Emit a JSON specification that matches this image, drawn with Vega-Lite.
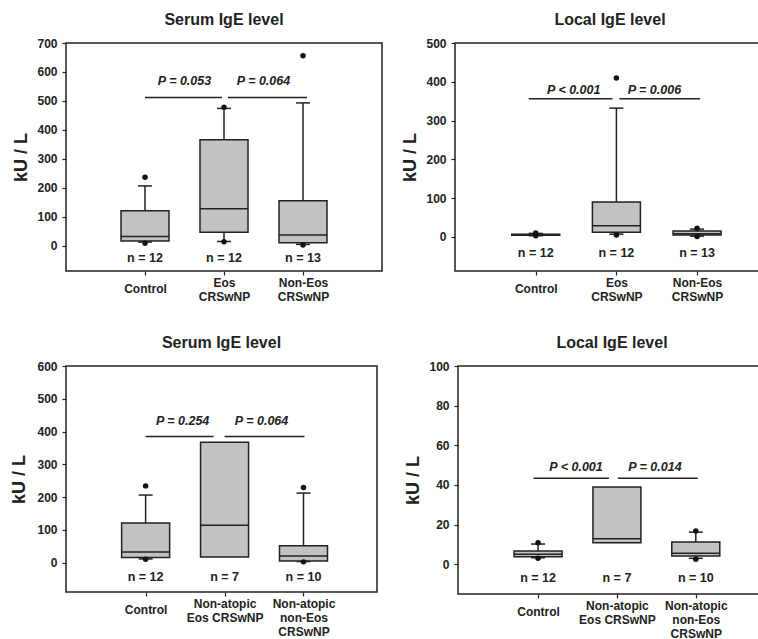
{
  "$schema": "https://vega.github.io/schema/vega-lite/v6.json",
  "background": "white",
  "padding": {"left": 10, "top": 11, "right": 0, "bottom": 0},
  "datasets": {
    "boxA": [
      {"group": "Control", "q1": 16, "median": 31, "q3": 120, "wlo": 12, "whi": 206, "n_label": "n = 12"},
      {"group": "Eos CRSwNP", "q1": 46, "median": 127, "q3": 366, "wlo": 14, "whi": 474, "n_label": "n = 12"},
      {"group": "Non-Eos CRSwNP", "q1": 10, "median": 36, "q3": 155, "wlo": 4, "whi": 493, "n_label": "n = 13"}
    ],
    "outA": [
      {"group": "Control", "value": 236}, {"group": "Control", "value": 8},
      {"group": "Eos CRSwNP", "value": 478}, {"group": "Eos CRSwNP", "value": 13},
      {"group": "Non-Eos CRSwNP", "value": 656}, {"group": "Non-Eos CRSwNP", "value": 2}
    ],
    "sigA": [
      {"group": "Control", "group2": "Eos CRSwNP", "p": "P = 0.053", "pair": 1},
      {"group": "Eos CRSwNP", "group2": "Non-Eos CRSwNP", "p": "P = 0.064", "pair": 2}
    ],
    "boxB": [
      {"group": "Control", "q1": 4, "median": 5, "q3": 7, "wlo": 3, "whi": 9, "n_label": "n = 12"},
      {"group": "Eos CRSwNP", "q1": 12, "median": 29, "q3": 90, "wlo": 7, "whi": 332, "n_label": "n = 12"},
      {"group": "Non-Eos CRSwNP", "q1": 5, "median": 8, "q3": 15, "wlo": 2, "whi": 20, "n_label": "n = 13"}
    ],
    "outB": [
      {"group": "Control", "value": 10}, {"group": "Control", "value": 3},
      {"group": "Eos CRSwNP", "value": 410}, {"group": "Eos CRSwNP", "value": 5},
      {"group": "Non-Eos CRSwNP", "value": 22}, {"group": "Non-Eos CRSwNP", "value": 1}
    ],
    "sigB": [
      {"group": "Control", "group2": "Eos CRSwNP", "p": "P < 0.001", "pair": 1},
      {"group": "Eos CRSwNP", "group2": "Non-Eos CRSwNP", "p": "P = 0.006", "pair": 2}
    ],
    "boxC": [
      {"group": "Control", "q1": 15, "median": 32, "q3": 121, "wlo": 11, "whi": 206, "n_label": "n = 12"},
      {"group": "Non-atopic Eos CRSwNP", "q1": 17, "median": 114, "q3": 367, "wlo": null, "whi": null, "n_label": "n = 7"},
      {"group": "Non-atopic non-Eos CRSwNP", "q1": 5, "median": 20, "q3": 51, "wlo": 3, "whi": 212, "n_label": "n = 10"}
    ],
    "outC": [
      {"group": "Control", "value": 234}, {"group": "Control", "value": 10},
      {"group": "Non-atopic non-Eos CRSwNP", "value": 229}, {"group": "Non-atopic non-Eos CRSwNP", "value": 2}
    ],
    "sigC": [
      {"group": "Control", "group2": "Non-atopic Eos CRSwNP", "p": "P = 0.254", "pair": 1},
      {"group": "Non-atopic Eos CRSwNP", "group2": "Non-atopic non-Eos CRSwNP", "p": "P = 0.064", "pair": 2}
    ],
    "boxD": [
      {"group": "Control", "q1": 3.8, "median": 5, "q3": 6.7, "wlo": 3.3, "whi": 10.2, "n_label": "n = 12"},
      {"group": "Non-atopic Eos CRSwNP", "q1": 10.9, "median": 12.9, "q3": 39, "wlo": null, "whi": null, "n_label": "n = 7"},
      {"group": "Non-atopic non-Eos CRSwNP", "q1": 4.2, "median": 5.5, "q3": 11.2, "wlo": 3, "whi": 16.2, "n_label": "n = 10"}
    ],
    "outD": [
      {"group": "Control", "value": 10.9}, {"group": "Control", "value": 3},
      {"group": "Non-atopic non-Eos CRSwNP", "value": 16.8}, {"group": "Non-atopic non-Eos CRSwNP", "value": 2.5}
    ],
    "sigD": [
      {"group": "Control", "group2": "Non-atopic Eos CRSwNP", "p": "P < 0.001", "pair": 1},
      {"group": "Non-atopic Eos CRSwNP", "group2": "Non-atopic non-Eos CRSwNP", "p": "P = 0.014", "pair": 2}
    ]
  },
  "vconcat": [
    {
      "spacing": 18,
      "hconcat": [
        {
          "width": 316, "height": 228,
          "title": {"text": "Serum IgE level"},
          "encoding": {"x": {"field": "group", "type": "nominal", "scale": {"type": "point", "padding": 1, "domain": ["Control", "Eos CRSwNP", "Non-Eos CRSwNP"]}, "axis": {"title": null, "labelPadding": {"condition": {"test": "datum.value == 'Control'", "value": 13}, "value": 7}, "labelExpr": "datum.value == 'Control' ? 'Control' : split(datum.value, ' ')"}}},
          "layer": [
            {"data": {"name": "boxA"}, "mark": {"type": "rule", "color": "#222", "strokeWidth": 1.5},
             "encoding": {"y": {"field": "wlo", "type": "quantitative", "title": "kU / L", "scale": {"domain": [-88, 700], "nice": false, "zero": false}, "axis": {"values": [0, 100, 200, 300, 400, 500, 600, 700]}}, "y2": {"field": "whi"}}},
            {"data": {"name": "boxA"}, "mark": {"type": "tick", "color": "#222", "size": 14, "thickness": 1.5, "opacity": 1},
             "encoding": {"y": {"field": "whi", "type": "quantitative", "title": "kU / L", "scale": {"domain": [-88, 700], "nice": false, "zero": false}, "axis": {"values": [0, 100, 200, 300, 400, 500, 600, 700]}}}},
            {"data": {"name": "boxA"}, "mark": {"type": "tick", "color": "#222", "size": 14, "thickness": 1.5, "opacity": 1},
             "encoding": {"y": {"field": "wlo", "type": "quantitative", "title": "kU / L", "scale": {"domain": [-88, 700], "nice": false, "zero": false}, "axis": {"values": [0, 100, 200, 300, 400, 500, 600, 700]}}}},
            {"data": {"name": "boxA"}, "mark": {"type": "bar", "width": 48, "fill": "#c2c2c2", "stroke": "#222", "strokeWidth": 1.5},
             "encoding": {"y": {"field": "q1", "type": "quantitative", "title": "kU / L", "scale": {"domain": [-88, 700], "nice": false, "zero": false}, "axis": {"values": [0, 100, 200, 300, 400, 500, 600, 700]}}, "y2": {"field": "q3"}}},
            {"data": {"name": "boxA"}, "mark": {"type": "tick", "color": "#222", "size": 48, "thickness": 1.5, "opacity": 1},
             "encoding": {"y": {"field": "median", "type": "quantitative", "title": "kU / L", "scale": {"domain": [-88, 700], "nice": false, "zero": false}, "axis": {"values": [0, 100, 200, 300, 400, 500, 600, 700]}}}},
            {"data": {"name": "outA"}, "mark": {"type": "point", "filled": true, "color": "#111", "size": 30, "opacity": 1},
             "encoding": {"y": {"field": "value", "type": "quantitative", "title": "kU / L", "scale": {"domain": [-88, 700], "nice": false, "zero": false}, "axis": {"values": [0, 100, 200, 300, 400, 500, 600, 700]}}}},
            {"data": {"name": "boxA"}, "mark": {"type": "text", "fontWeight": "bold", "fontSize": 12.5, "color": "#222", "baseline": "middle"},
             "encoding": {"y": {"datum": -44, "type": "quantitative", "title": "kU / L", "scale": {"domain": [-88, 700], "nice": false, "zero": false}, "axis": {"values": [0, 100, 200, 300, 400, 500, 600, 700]}}, "text": {"field": "n_label"}}},
            {"data": {"name": "sigA"}, "transform": [{"filter": "datum.pair == 1"}], "mark": {"type": "rule", "color": "#222", "strokeWidth": 1.5, "x2Offset": -2},
             "encoding": {"x2": {"field": "group2"}, "y": {"datum": 512, "type": "quantitative", "title": "kU / L", "scale": {"domain": [-88, 700], "nice": false, "zero": false}, "axis": {"values": [0, 100, 200, 300, 400, 500, 600, 700]}}}},
            {"data": {"name": "sigA"}, "transform": [{"filter": "datum.pair == 2"}], "mark": {"type": "rule", "color": "#222", "strokeWidth": 1.5, "xOffset": 4, "x2Offset": 4},
             "encoding": {"x2": {"field": "group2"}, "y": {"datum": 512, "type": "quantitative", "title": "kU / L", "scale": {"domain": [-88, 700], "nice": false, "zero": false}, "axis": {"values": [0, 100, 200, 300, 400, 500, 600, 700]}}}},
            {"data": {"name": "sigA"}, "mark": {"type": "text", "fontWeight": "bold", "fontStyle": "italic", "fontSize": 12.5, "color": "#222", "baseline": "middle", "dx": 39.5},
             "encoding": {"y": {"datum": 567, "type": "quantitative", "title": "kU / L", "scale": {"domain": [-88, 700], "nice": false, "zero": false}, "axis": {"values": [0, 100, 200, 300, 400, 500, 600, 700]}}, "text": {"field": "p"}}}
          ]
        },
        {
          "width": 306, "height": 228,
          "title": {"text": "Local IgE level", "dx": 2},
          "encoding": {"x": {"field": "group", "type": "nominal", "scale": {"type": "point", "padding": 0.897, "align": 0.558, "domain": ["Control", "Eos CRSwNP", "Non-Eos CRSwNP"]}, "axis": {"title": null, "labelPadding": {"condition": {"test": "datum.value == 'Control'", "value": 13}, "value": 7}, "labelExpr": "datum.value == 'Control' ? 'Control' : split(datum.value, ' ')"}}},
          "layer": [
            {"data": {"name": "boxB"}, "mark": {"type": "rule", "color": "#222", "strokeWidth": 1.5},
             "encoding": {"y": {"field": "wlo", "type": "quantitative", "title": "kU / L", "scale": {"domain": [-88, 500], "nice": false, "zero": false}, "axis": {"values": [0, 100, 200, 300, 400, 500]}}, "y2": {"field": "whi"}}},
            {"data": {"name": "boxB"}, "mark": {"type": "tick", "color": "#222", "size": 14, "thickness": 1.5, "opacity": 1},
             "encoding": {"y": {"field": "whi", "type": "quantitative", "title": "kU / L", "scale": {"domain": [-88, 500], "nice": false, "zero": false}, "axis": {"values": [0, 100, 200, 300, 400, 500]}}}},
            {"data": {"name": "boxB"}, "mark": {"type": "tick", "color": "#222", "size": 14, "thickness": 1.5, "opacity": 1},
             "encoding": {"y": {"field": "wlo", "type": "quantitative", "title": "kU / L", "scale": {"domain": [-88, 500], "nice": false, "zero": false}, "axis": {"values": [0, 100, 200, 300, 400, 500]}}}},
            {"data": {"name": "boxB"}, "mark": {"type": "bar", "width": 48, "fill": "#c2c2c2", "stroke": "#222", "strokeWidth": 1.5},
             "encoding": {"y": {"field": "q1", "type": "quantitative", "title": "kU / L", "scale": {"domain": [-88, 500], "nice": false, "zero": false}, "axis": {"values": [0, 100, 200, 300, 400, 500]}}, "y2": {"field": "q3"}}},
            {"data": {"name": "boxB"}, "mark": {"type": "tick", "color": "#222", "size": 48, "thickness": 1.5, "opacity": 1},
             "encoding": {"y": {"field": "median", "type": "quantitative", "title": "kU / L", "scale": {"domain": [-88, 500], "nice": false, "zero": false}, "axis": {"values": [0, 100, 200, 300, 400, 500]}}}},
            {"data": {"name": "outB"}, "mark": {"type": "point", "filled": true, "color": "#111", "size": 30, "opacity": 1},
             "encoding": {"y": {"field": "value", "type": "quantitative", "title": "kU / L", "scale": {"domain": [-88, 500], "nice": false, "zero": false}, "axis": {"values": [0, 100, 200, 300, 400, 500]}}}},
            {"data": {"name": "boxB"}, "mark": {"type": "text", "fontWeight": "bold", "fontSize": 12.5, "color": "#222", "baseline": "middle"},
             "encoding": {"y": {"datum": -42, "type": "quantitative", "title": "kU / L", "scale": {"domain": [-88, 500], "nice": false, "zero": false}, "axis": {"values": [0, 100, 200, 300, 400, 500]}}, "text": {"field": "n_label"}}},
            {"data": {"name": "sigB"}, "transform": [{"filter": "datum.pair == 1"}], "mark": {"type": "rule", "color": "#222", "strokeWidth": 1.5, "xOffset": -7, "x2Offset": -4},
             "encoding": {"x2": {"field": "group2"}, "y": {"datum": 356, "type": "quantitative", "title": "kU / L", "scale": {"domain": [-88, 500], "nice": false, "zero": false}, "axis": {"values": [0, 100, 200, 300, 400, 500]}}}},
            {"data": {"name": "sigB"}, "transform": [{"filter": "datum.pair == 2"}], "mark": {"type": "rule", "color": "#222", "strokeWidth": 1.5, "xOffset": 3, "x2Offset": 3},
             "encoding": {"x2": {"field": "group2"}, "y": {"datum": 356, "type": "quantitative", "title": "kU / L", "scale": {"domain": [-88, 500], "nice": false, "zero": false}, "axis": {"values": [0, 100, 200, 300, 400, 500]}}}},
            {"data": {"name": "sigB"}, "mark": {"type": "text", "fontWeight": "bold", "fontStyle": "italic", "fontSize": 12.5, "color": "#222", "baseline": "middle", "dx": 38},
             "encoding": {"y": {"datum": 380, "type": "quantitative", "title": "kU / L", "scale": {"domain": [-88, 500], "nice": false, "zero": false}, "axis": {"values": [0, 100, 200, 300, 400, 500]}}, "text": {"field": "p"}}}
          ]
        }
      ]
    },
    {
      "spacing": 26,
      "hconcat": [
        {
          "width": 311, "height": 226,
          "title": {"text": "Serum IgE level"},
          "encoding": {"x": {"field": "group", "type": "nominal", "scale": {"type": "point", "padding": 0.97, "align": 0.52, "domain": ["Control", "Non-atopic Eos CRSwNP", "Non-atopic non-Eos CRSwNP"]}, "axis": {"title": null, "labelPadding": {"condition": {"test": "datum.value == 'Control'", "value": 13}, "value": 7}, "labelExpr": "datum.value == 'Control' ? 'Control' : datum.value == 'Non-atopic Eos CRSwNP' ? ['Non-atopic', 'Eos CRSwNP'] : ['Non-atopic', 'non-Eos', 'CRSwNP']"}}},
          "layer": [
            {"data": {"name": "boxC"}, "mark": {"type": "rule", "color": "#222", "strokeWidth": 1.5},
             "encoding": {"y": {"field": "wlo", "type": "quantitative", "title": "kU / L", "scale": {"domain": [-90, 600], "nice": false, "zero": false}, "axis": {"values": [0, 100, 200, 300, 400, 500, 600], "titlePadding": 8}}, "y2": {"field": "whi"}}},
            {"data": {"name": "boxC"}, "mark": {"type": "tick", "color": "#222", "size": 14, "thickness": 1.5, "opacity": 1},
             "encoding": {"y": {"field": "whi", "type": "quantitative", "title": "kU / L", "scale": {"domain": [-90, 600], "nice": false, "zero": false}, "axis": {"values": [0, 100, 200, 300, 400, 500, 600], "titlePadding": 8}}}},
            {"data": {"name": "boxC"}, "mark": {"type": "tick", "color": "#222", "size": 14, "thickness": 1.5, "opacity": 1},
             "encoding": {"y": {"field": "wlo", "type": "quantitative", "title": "kU / L", "scale": {"domain": [-90, 600], "nice": false, "zero": false}, "axis": {"values": [0, 100, 200, 300, 400, 500, 600], "titlePadding": 8}}}},
            {"data": {"name": "boxC"}, "mark": {"type": "bar", "width": 48, "fill": "#c2c2c2", "stroke": "#222", "strokeWidth": 1.5},
             "encoding": {"y": {"field": "q1", "type": "quantitative", "title": "kU / L", "scale": {"domain": [-90, 600], "nice": false, "zero": false}, "axis": {"values": [0, 100, 200, 300, 400, 500, 600], "titlePadding": 8}}, "y2": {"field": "q3"}}},
            {"data": {"name": "boxC"}, "mark": {"type": "tick", "color": "#222", "size": 48, "thickness": 1.5, "opacity": 1},
             "encoding": {"y": {"field": "median", "type": "quantitative", "title": "kU / L", "scale": {"domain": [-90, 600], "nice": false, "zero": false}, "axis": {"values": [0, 100, 200, 300, 400, 500, 600], "titlePadding": 8}}}},
            {"data": {"name": "outC"}, "mark": {"type": "point", "filled": true, "color": "#111", "size": 30, "opacity": 1},
             "encoding": {"y": {"field": "value", "type": "quantitative", "title": "kU / L", "scale": {"domain": [-90, 600], "nice": false, "zero": false}, "axis": {"values": [0, 100, 200, 300, 400, 500, 600], "titlePadding": 8}}}},
            {"data": {"name": "boxC"}, "mark": {"type": "text", "fontWeight": "bold", "fontSize": 12.5, "color": "#222", "baseline": "middle"},
             "encoding": {"y": {"datum": -44, "type": "quantitative", "title": "kU / L", "scale": {"domain": [-90, 600], "nice": false, "zero": false}, "axis": {"values": [0, 100, 200, 300, 400, 500, 600], "titlePadding": 8}}, "text": {"field": "n_label"}}},
            {"data": {"name": "sigC"}, "transform": [{"filter": "datum.pair == 1"}], "mark": {"type": "rule", "color": "#222", "strokeWidth": 1.5, "x2Offset": -11},
             "encoding": {"x2": {"field": "group2"}, "y": {"datum": 385, "type": "quantitative", "title": "kU / L", "scale": {"domain": [-90, 600], "nice": false, "zero": false}, "axis": {"values": [0, 100, 200, 300, 400, 500, 600], "titlePadding": 8}}}},
            {"data": {"name": "sigC"}, "transform": [{"filter": "datum.pair == 2"}], "mark": {"type": "rule", "color": "#222", "strokeWidth": 1.5, "xOffset": 0, "x2Offset": 1},
             "encoding": {"x2": {"field": "group2"}, "y": {"datum": 385, "type": "quantitative", "title": "kU / L", "scale": {"domain": [-90, 600], "nice": false, "zero": false}, "axis": {"values": [0, 100, 200, 300, 400, 500, 600], "titlePadding": 8}}}},
            {"data": {"name": "sigC"}, "mark": {"type": "text", "fontWeight": "bold", "fontStyle": "italic", "fontSize": 12.5, "color": "#222", "baseline": "middle", "dx": 37},
             "encoding": {"y": {"datum": 431, "type": "quantitative", "title": "kU / L", "scale": {"domain": [-90, 600], "nice": false, "zero": false}, "axis": {"values": [0, 100, 200, 300, 400, 500, 600], "titlePadding": 8}}, "text": {"field": "p"}}}
          ]
        },
        {
          "width": 306, "height": 228,
          "title": {"text": "Local IgE level", "dx": 1},
          "encoding": {"x": {"field": "group", "type": "nominal", "scale": {"type": "point", "padding": 0.94, "align": 0.54, "domain": ["Control", "Non-atopic Eos CRSwNP", "Non-atopic non-Eos CRSwNP"]}, "axis": {"title": null, "labelPadding": {"condition": {"test": "datum.value == 'Control'", "value": 13}, "value": 7}, "labelExpr": "datum.value == 'Control' ? 'Control' : datum.value == 'Non-atopic Eos CRSwNP' ? ['Non-atopic', 'Eos CRSwNP'] : ['Non-atopic', 'non-Eos', 'CRSwNP']"}}},
          "layer": [
            {"data": {"name": "boxD"}, "mark": {"type": "rule", "color": "#222", "strokeWidth": 1.5},
             "encoding": {"y": {"field": "wlo", "type": "quantitative", "title": "kU / L", "scale": {"domain": [-15, 100], "nice": false, "zero": false}, "axis": {"values": [0, 20, 40, 60, 80, 100]}}, "y2": {"field": "whi"}}},
            {"data": {"name": "boxD"}, "mark": {"type": "tick", "color": "#222", "size": 14, "thickness": 1.5, "opacity": 1},
             "encoding": {"y": {"field": "whi", "type": "quantitative", "title": "kU / L", "scale": {"domain": [-15, 100], "nice": false, "zero": false}, "axis": {"values": [0, 20, 40, 60, 80, 100]}}}},
            {"data": {"name": "boxD"}, "mark": {"type": "tick", "color": "#222", "size": 14, "thickness": 1.5, "opacity": 1},
             "encoding": {"y": {"field": "wlo", "type": "quantitative", "title": "kU / L", "scale": {"domain": [-15, 100], "nice": false, "zero": false}, "axis": {"values": [0, 20, 40, 60, 80, 100]}}}},
            {"data": {"name": "boxD"}, "mark": {"type": "bar", "width": 48, "fill": "#c2c2c2", "stroke": "#222", "strokeWidth": 1.5},
             "encoding": {"y": {"field": "q1", "type": "quantitative", "title": "kU / L", "scale": {"domain": [-15, 100], "nice": false, "zero": false}, "axis": {"values": [0, 20, 40, 60, 80, 100]}}, "y2": {"field": "q3"}}},
            {"data": {"name": "boxD"}, "mark": {"type": "tick", "color": "#222", "size": 48, "thickness": 1.5, "opacity": 1},
             "encoding": {"y": {"field": "median", "type": "quantitative", "title": "kU / L", "scale": {"domain": [-15, 100], "nice": false, "zero": false}, "axis": {"values": [0, 20, 40, 60, 80, 100]}}}},
            {"data": {"name": "outD"}, "mark": {"type": "point", "filled": true, "color": "#111", "size": 30, "opacity": 1},
             "encoding": {"y": {"field": "value", "type": "quantitative", "title": "kU / L", "scale": {"domain": [-15, 100], "nice": false, "zero": false}, "axis": {"values": [0, 20, 40, 60, 80, 100]}}}},
            {"data": {"name": "boxD"}, "mark": {"type": "text", "fontWeight": "bold", "fontSize": 12.5, "color": "#222", "baseline": "middle"},
             "encoding": {"y": {"datum": -6.7, "type": "quantitative", "title": "kU / L", "scale": {"domain": [-15, 100], "nice": false, "zero": false}, "axis": {"values": [0, 20, 40, 60, 80, 100]}}, "text": {"field": "n_label"}}},
            {"data": {"name": "sigD"}, "transform": [{"filter": "datum.pair == 1"}], "mark": {"type": "rule", "color": "#222", "strokeWidth": 1.5, "xOffset": -4.6, "x2Offset": -8},
             "encoding": {"x2": {"field": "group2"}, "y": {"datum": 43.4, "type": "quantitative", "title": "kU / L", "scale": {"domain": [-15, 100], "nice": false, "zero": false}, "axis": {"values": [0, 20, 40, 60, 80, 100]}}}},
            {"data": {"name": "sigD"}, "transform": [{"filter": "datum.pair == 2"}], "mark": {"type": "rule", "color": "#222", "strokeWidth": 1.5, "xOffset": 1, "x2Offset": 2},
             "encoding": {"x2": {"field": "group2"}, "y": {"datum": 43.4, "type": "quantitative", "title": "kU / L", "scale": {"domain": [-15, 100], "nice": false, "zero": false}, "axis": {"values": [0, 20, 40, 60, 80, 100]}}}},
            {"data": {"name": "sigD"}, "mark": {"type": "text", "fontWeight": "bold", "fontStyle": "italic", "fontSize": 12.5, "color": "#222", "baseline": "middle", "dx": 38},
             "encoding": {"y": {"datum": 49, "type": "quantitative", "title": "kU / L", "scale": {"domain": [-15, 100], "nice": false, "zero": false}, "axis": {"values": [0, 20, 40, 60, 80, 100]}}, "text": {"field": "p"}}}
          ]
        }
      ]
    }
  ],
  "spacing": 31,
  "config": {
    "font": "Liberation Sans",
    "view": {"stroke": "#222", "strokeWidth": 1.5},
    "text": {"font": "Liberation Sans"},
    "title": {"font": "Liberation Sans", "fontSize": 16, "fontWeight": "bold", "color": "#222", "offset": 9},
    "axis": {"labelFont": "Liberation Sans", "labelFontWeight": "bold", "labelFontSize": 12, "labelColor": "#222", "tickColor": "#222", "tickWidth": 1.2, "tickSize": 4, "domain": false, "grid": false, "titleFont": "Liberation Sans", "titleFontWeight": "bold", "titleFontSize": 18, "titleColor": "#222"},
    "axisY": {"labelPadding": 5, "titlePadding": 6, "labelOverlap": false},
    "axisX": {"labelBaseline": "middle", "labelLineHeight": 14, "labelOverlap": false, "labelLimit": 0, "labelAngle": 0}
  }
}
